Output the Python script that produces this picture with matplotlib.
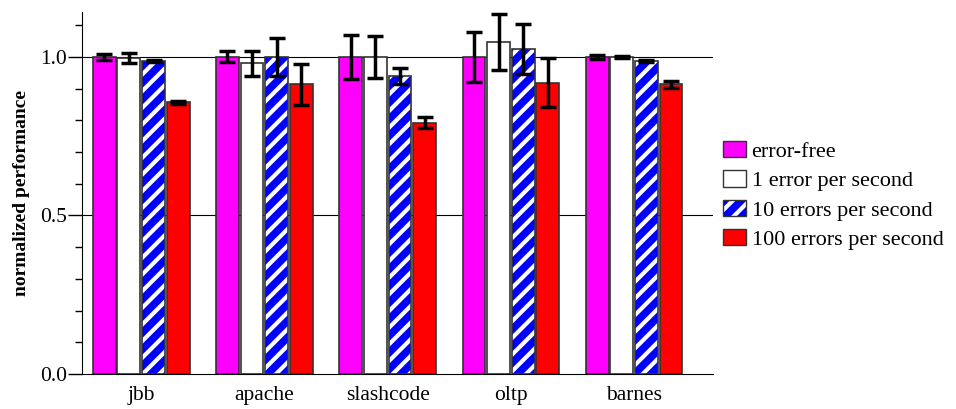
import matplotlib
matplotlib.use("Agg")
import matplotlib.pyplot as plt
import numpy as np
from matplotlib.patches import Patch
from matplotlib.ticker import MultipleLocator

plt.rcParams['font.family'] = ['Liberation Serif', 'DejaVu Serif']
plt.rcParams['hatch.linewidth'] = 3.0

benchmarks = ["jbb", "apache", "slashcode", "oltp", "barnes"]
series = ["error-free", "1 error per second", "10 errors per second", "100 errors per second"]

err_free = [1.000, 1.000, 1.000, 1.000, 1.000]
err_free_e = [0.010, 0.017, 0.070, 0.080, 0.007]
one_err = [0.997, 0.980, 1.000, 1.048, 1.000]
one_err_e = [0.015, 0.040, 0.067, 0.088, 0.003]
ten_err = [0.987, 1.000, 0.941, 1.025, 0.988]
ten_err_e = [0.004, 0.060, 0.025, 0.080, 0.003]
hundred_err = [0.857, 0.913, 0.792, 0.919, 0.913]
hundred_err_e = [0.005, 0.065, 0.017, 0.076, 0.011]

values = [err_free, one_err, ten_err, hundred_err]
errors = [err_free_e, one_err_e, ten_err_e, hundred_err_e]
faces = ["#ff00ff", "white", "#0000ff", "#ff0000"]

fig = plt.figure(figsize=(9.56, 4.09), dpi=100)
ax = fig.add_axes([0.0858, 0.0856, 0.6600, 0.8854])

x = np.arange(len(benchmarks))
offsets = [-0.3, -0.1, 0.1, 0.3]
w = 0.185

for yv in (0.5, 1.0):
    ax.axhline(yv, color="black", lw=0.8, zorder=1)

for i in range(4):
    pos = x + offsets[i]
    if i == 2:
        ax.bar(pos, values[i], w, color=faces[i], edgecolor="white", hatch="//", lw=0, zorder=2)
        ax.bar(pos, values[i], w, color="none", edgecolor="#333333", lw=1.2, zorder=3)
    else:
        ax.bar(pos, values[i], w, color=faces[i], edgecolor="#333333", lw=1.2, zorder=2)
    ax.errorbar(pos, values[i], yerr=errors[i], fmt="none", ecolor="black",
                elinewidth=2.5, capsize=6, capthick=2.5, zorder=4)

ax.set_xlim(-0.48, 4.64)
ax.set_ylim(0, 1.142)
ax.set_xticks(x)
ax.set_xticklabels(benchmarks, fontsize=15.5)
ax.tick_params(axis="x", length=0, pad=9)
ax.set_yticks([0.0, 0.5, 1.0])
ax.set_yticklabels(["0.0", "0.5", "1.0"])
ax.yaxis.set_minor_locator(MultipleLocator(0.1))
ax.tick_params(axis="y", which="major", length=10, width=1, labelsize=15.5, pad=1)
ax.tick_params(axis="y", which="minor", length=5, width=1)
ax.set_ylabel("normalized performance", fontsize=14, fontweight="bold", labelpad=7)
for s in ("top", "right"):
    ax.spines[s].set_visible(False)

# hatched legend key: stripes plus a dark outline
hatch_key = (Patch(facecolor=faces[2], edgecolor="white", hatch="//", lw=0),
             Patch(facecolor="none", edgecolor="#333333"))
handles = [
    Patch(facecolor=faces[0], edgecolor="#333333"),
    Patch(facecolor=faces[1], edgecolor="#333333"),
    hatch_key,
    Patch(facecolor=faces[3], edgecolor="#333333"),
]
leg = fig.legend(handles, series, loc="upper left", bbox_to_anchor=(0.756, 0.655),
                 frameon=False, fontsize=16, handlelength=1.05, handleheight=0.75,
                 handletextpad=0.25, labelspacing=0.38, borderpad=0, borderaxespad=0)

fig.savefig("out.png", dpi=100)
